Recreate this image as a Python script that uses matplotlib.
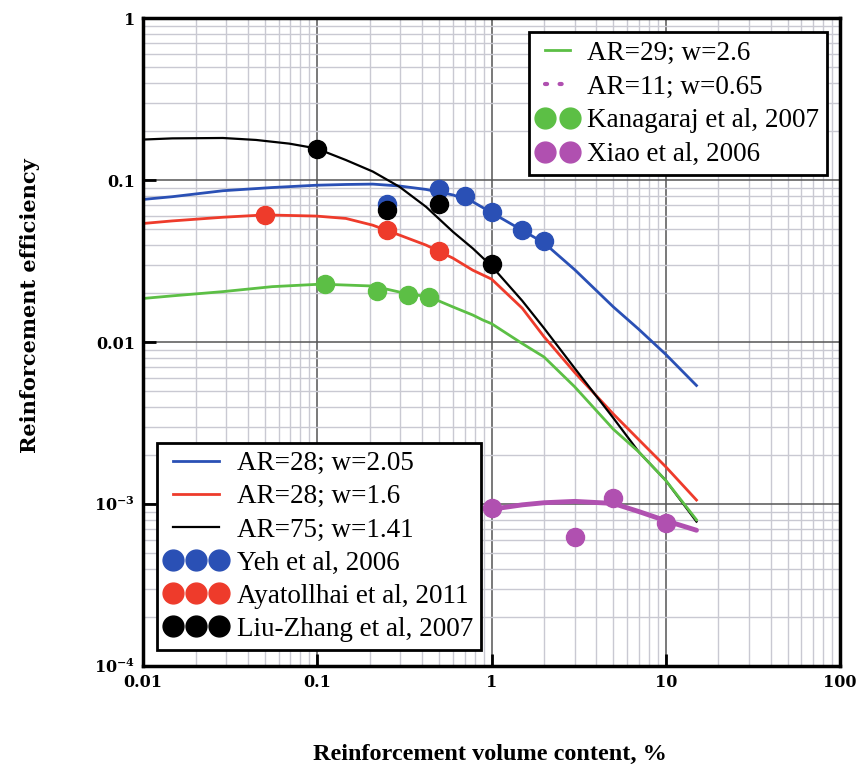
import matplotlib.pyplot as plt
from matplotlib.lines import Line2D

# модельные кривые
blue_x = [0.01, 0.0147, 0.0287, 0.055, 0.0986, 0.146, 0.208, 0.296, 0.421, 0.6, 0.78, 1.0, 1.5, 2, 3, 5, 7, 10, 15]
blue_y = [0.076, 0.079, 0.086, 0.090, 0.093, 0.094, 0.0945, 0.092, 0.0876, 0.081, 0.0735, 0.063, 0.049, 0.041, 0.028, 0.0165, 0.012, 0.0084, 0.0054]

red_x = [0.01, 0.0147, 0.0287, 0.05, 0.0986, 0.146, 0.208, 0.296, 0.421, 0.6, 0.78, 1.0, 1.5, 2, 3, 5, 7, 10, 15]
red_y = [0.054, 0.056, 0.059, 0.061, 0.060, 0.058, 0.0527, 0.0458, 0.0397, 0.033, 0.0278, 0.0245, 0.0162, 0.0108, 0.0065, 0.0036, 0.0025, 0.0017, 0.00106]

black_x = [0.01, 0.0147, 0.0287, 0.0445, 0.069, 0.0986, 0.146, 0.208, 0.296, 0.421, 0.6, 0.78, 1.0, 1.5, 2, 3, 5, 7, 10, 15]
black_y = [0.178, 0.181, 0.182, 0.177, 0.168, 0.157, 0.133, 0.113, 0.091, 0.0684, 0.048, 0.0379, 0.0295, 0.018, 0.0122, 0.0069, 0.0034, 0.0021, 0.0014, 0.00078]

green_x = [0.01, 0.0147, 0.0287, 0.055, 0.105, 0.208, 0.32, 0.44, 0.6, 0.78, 0.89, 1.0, 1.5, 2, 3, 5, 7, 10, 15]
green_y = [0.0186, 0.0193, 0.0205, 0.022, 0.0228, 0.0222, 0.020, 0.019, 0.0165, 0.0147, 0.0137, 0.013, 0.0098, 0.0081, 0.0053, 0.0029, 0.0021, 0.0014, 0.0008]

magenta_x = [1, 1.5, 2, 3, 5, 7, 10, 15]
magenta_y = [0.00093, 0.00099, 0.00102, 0.00104, 0.00101, 0.0009, 0.00079, 0.00069]

# экспериментальные точки
yeh_x = [0.25, 0.5, 0.7, 1, 1.5, 2]
yeh_y = [0.071, 0.088, 0.080, 0.064, 0.049, 0.042]
ayat_x = [0.05, 0.25, 0.5]
ayat_y = [0.061, 0.049, 0.0365]
liu_x = [0.1, 0.25, 0.5, 1]
liu_y = [0.155, 0.065, 0.071, 0.0305]
kana_x = [0.11, 0.22, 0.33, 0.44]
kana_y = [0.0228, 0.0206, 0.0195, 0.019]
xiao_x = [1, 3, 5, 10]
xiao_y = [0.00094, 0.000625, 0.00109, 0.00077]

c_blue = '#2a50b5'
c_red = '#ee3b2b'
c_green = '#5cbf45'
c_mag = '#b050b0'

plt.rcParams['mathtext.fontset'] = 'dejavuserif'

fig = plt.figure(figsize=(8.62, 7.71), dpi=100)
ax = fig.add_axes([0.166, 0.136, 0.8085, 0.8405])
ax.set_xscale('log')
ax.set_yscale('log')
ax.set_xlim(0.01, 100)
ax.set_ylim(1e-4, 1)

ax.grid(which='minor', color='#c9c9d2', linewidth=1.0)
ax.grid(which='major', color='#555555', linewidth=1.1)
ax.set_axisbelow(True)

ms = 13
ax.plot(blue_x, blue_y, color=c_blue, lw=2)
ax.plot(red_x, red_y, color=c_red, lw=2)
ax.plot(black_x, black_y, color='black', lw=1.6)
ax.plot(green_x, green_y, color=c_green, lw=2)
ax.plot(magenta_x, magenta_y, color=c_mag, lw=3.5, solid_capstyle='round')

ax.plot(yeh_x, yeh_y, 'o', color=c_blue, ms=ms)
ax.plot(ayat_x, ayat_y, 'o', color=c_red, ms=ms)
ax.plot(liu_x, liu_y, 'o', color='black', ms=ms)
ax.plot(kana_x, kana_y, 'o', color=c_green, ms=ms)
ax.plot(xiao_x, xiao_y, 'o', color=c_mag, ms=ms)

for s in ax.spines.values():
    s.set_linewidth(2.5)
ax.tick_params(which='major', direction='in', length=9, width=2, pad=6)
ax.tick_params(which='minor', length=0)

tick_font = dict(family='DejaVu Serif', weight='bold', size=11.5)
ax.set_xticks([0.01, 0.1, 1, 10, 100])
ax.set_xticklabels(['0.01', '0.1', '1', '10', '100'], **tick_font)
ax.set_yticks([1e-4, 1e-3, 0.01, 0.1, 1])
ax.set_yticklabels([r'$\mathbf{10^{-4}}$', r'$\mathbf{10^{-3}}$', '0.01', '0.1', '1'], **tick_font)

leg_font = dict(family='Liberation Serif', size=19.5)

# верхняя легенда
h1 = [Line2D([], [], color=c_green, lw=2),
      Line2D([], [], color=c_mag, lw=3, linestyle=(0, (0.5, 3)), dash_capstyle='round'),
      Line2D([], [], color=c_green, marker='o', ms=15, linestyle='none'),
      Line2D([], [], color=c_mag, marker='o', ms=15, linestyle='none')]
l1 = ['AR=29; w=2.6', 'AR=11; w=0.65', 'Kanagaraj et al, 2007', 'Xiao et al, 2006']
leg1 = ax.legend(h1, l1, loc='upper right', bbox_to_anchor=(0.982, 0.978), numpoints=2,
                 handlelength=1.5, handletextpad=0.35, labelspacing=0.33, borderpad=0.3,
                 borderaxespad=0, fancybox=False, framealpha=1, edgecolor='black', prop=leg_font)
leg1.get_frame().set_linewidth(2)
ax.add_artist(leg1)

# нижняя легенда
h2 = [Line2D([], [], color=c_blue, lw=2),
      Line2D([], [], color=c_red, lw=2),
      Line2D([], [], color='black', lw=1.6),
      Line2D([], [], color=c_blue, marker='o', ms=15, linestyle='none'),
      Line2D([], [], color=c_red, marker='o', ms=15, linestyle='none'),
      Line2D([], [], color='black', marker='o', ms=15, linestyle='none')]
l2 = ['AR=28; w=2.05', 'AR=28; w=1.6', 'AR=75; w=1.41',
      'Yeh et al, 2006', 'Ayatollhai et al, 2011', 'Liu-Zhang et al, 2007']
leg2 = ax.legend(h2, l2, loc='lower left', bbox_to_anchor=(0.02, 0.025), numpoints=3,
                 handlelength=2.3, handletextpad=0.35, labelspacing=0.3, borderpad=0.3,
                 borderaxespad=0, fancybox=False, framealpha=1, edgecolor='black', prop=leg_font)
leg2.get_frame().set_linewidth(2)

fig.text(0.568, 0.022, 'Reinforcement volume content, %', ha='center', va='center',
         family='Liberation Serif', weight='bold', size=17.5)
fig.text(0.035, 0.604, 'Reinforcement efficiency', ha='center', va='center', rotation=90,
         family='DejaVu Serif', weight='bold', size=15)

fig.savefig('out.png', dpi=100)
